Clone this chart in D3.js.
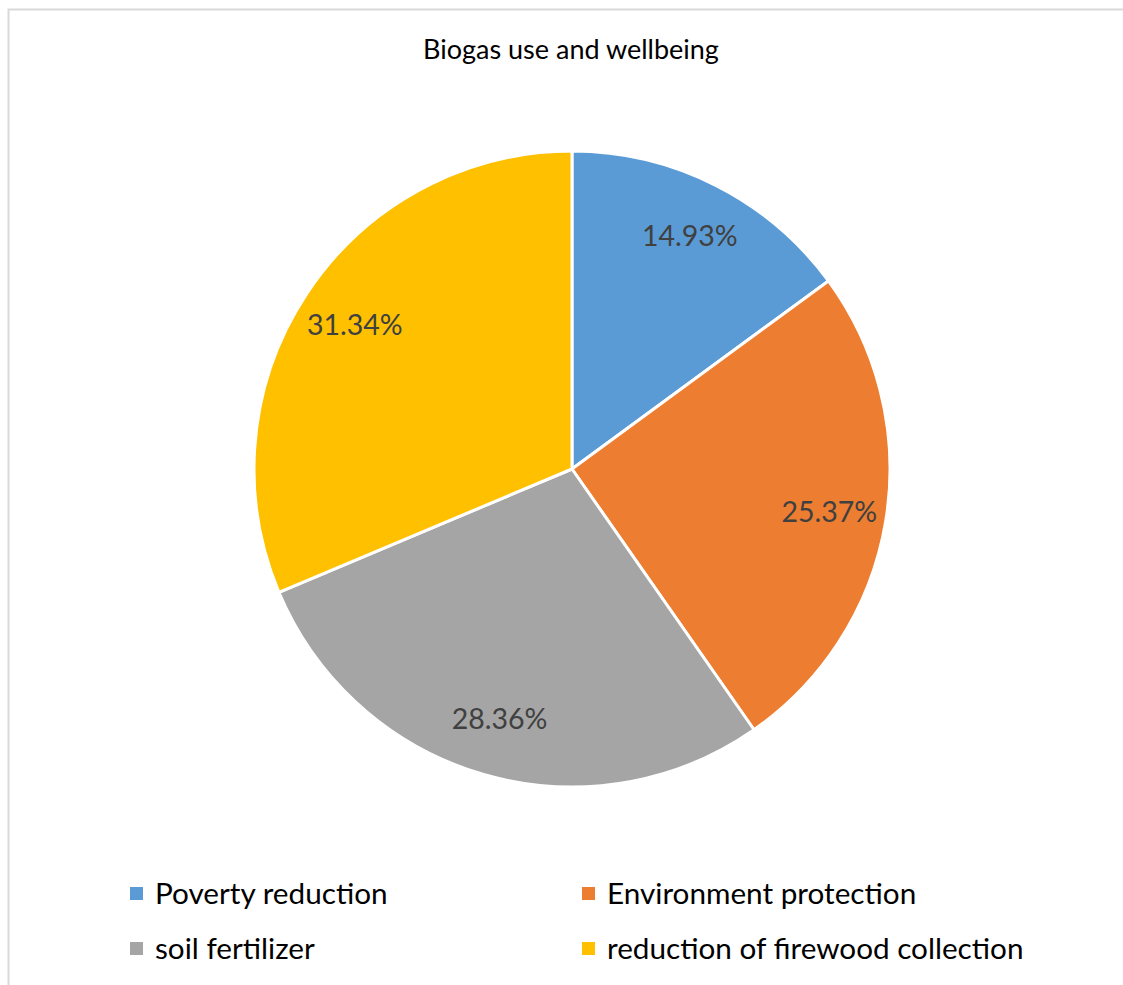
<!DOCTYPE html>
<html>
<head>
<meta charset="utf-8">
<script src="https://cdn.jsdelivr.net/npm/d3@7/dist/d3.min.js"></script>
<style>
  html, body { margin: 0; padding: 0; background: #ffffff; }
  svg { display: block; }
</style>
</head>
<body>
<svg id="chart" width="1123" height="985"></svg>
<script>
// Biogas use and wellbeing — share of respondents by perceived benefit
const title = "Biogas use and wellbeing";
const categories = ["Poverty reduction", "Environment protection", "soil fertilizer", "reduction of firewood collection"];
const shares = [14.93, 25.37, 28.36, 31.34];
const colors = ["#5b9bd5", "#ed7d31", "#a5a5a5", "#ffc000"];

const W = 1123, H = 985;
const font = "Lato, 'Open Sans', sans-serif";
const svg = d3.select("#chart");

// chart area frame (only top and left edges fall inside the view)
svg.append("rect")
  .attr("x", 8.5).attr("y", 9.5)
  .attr("width", W + 20).attr("height", H + 20)
  .attr("fill", "#ffffff")
  .attr("stroke", "#d9d9d9").attr("stroke-width", 2);

svg.append("text")
  .attr("x", 571).attr("y", 59)
  .attr("text-anchor", "middle")
  .attr("font-family", font).attr("font-size", 27)
  .attr("fill", "#000000")
  .text(title);

const cx = 572, cy = 469, R = 318;
const data = categories.map((c, i) => ({ name: c, value: shares[i], color: colors[i] }));

const pie = d3.pie().value(d => d.value).sort(null);
const arc = d3.arc().innerRadius(0).outerRadius(R);
const labelArc = d3.arc().innerRadius(R * 0.82).outerRadius(R * 0.82);

const g = svg.append("g").attr("transform", `translate(${cx},${cy})`);
const arcs = pie(data);

g.selectAll("path.slice")
  .data(arcs)
  .join("path")
  .attr("class", "slice")
  .attr("d", arc)
  .attr("fill", d => d.data.color)
  .attr("stroke", "#ffffff")
  .attr("stroke-width", 3)
  .attr("stroke-linejoin", "round");

g.selectAll("text.pct")
  .data(arcs)
  .join("text")
  .attr("class", "pct")
  .attr("transform", d => `translate(${labelArc.centroid(d)})`)
  .attr("text-anchor", "middle")
  .attr("dy", "0.35em")
  .attr("font-family", font).attr("font-size", 28.5)
  .attr("fill", "#404040")
  .text(d => d.data.value.toFixed(2) + "%");

// legend: two columns, two rows
const legendX = [130, 582], legendY = [894, 949];
const legend = svg.append("g");
data.forEach((d, i) => {
  const col = i % 2, row = Math.floor(i / 2);
  const item = legend.append("g").attr("transform", `translate(${legendX[col]},${legendY[row]})`);
  item.append("rect")
    .attr("x", 0).attr("y", -7)
    .attr("width", 13).attr("height", 13)
    .attr("fill", d.color);
  item.append("text")
    .attr("x", 25).attr("y", 0)
    .attr("dy", "0.35em")
    .attr("font-family", font).attr("font-size", 29.7)
    .attr("fill", "#000000")
    .text(d.name);
});
</script>
</body>
</html>
